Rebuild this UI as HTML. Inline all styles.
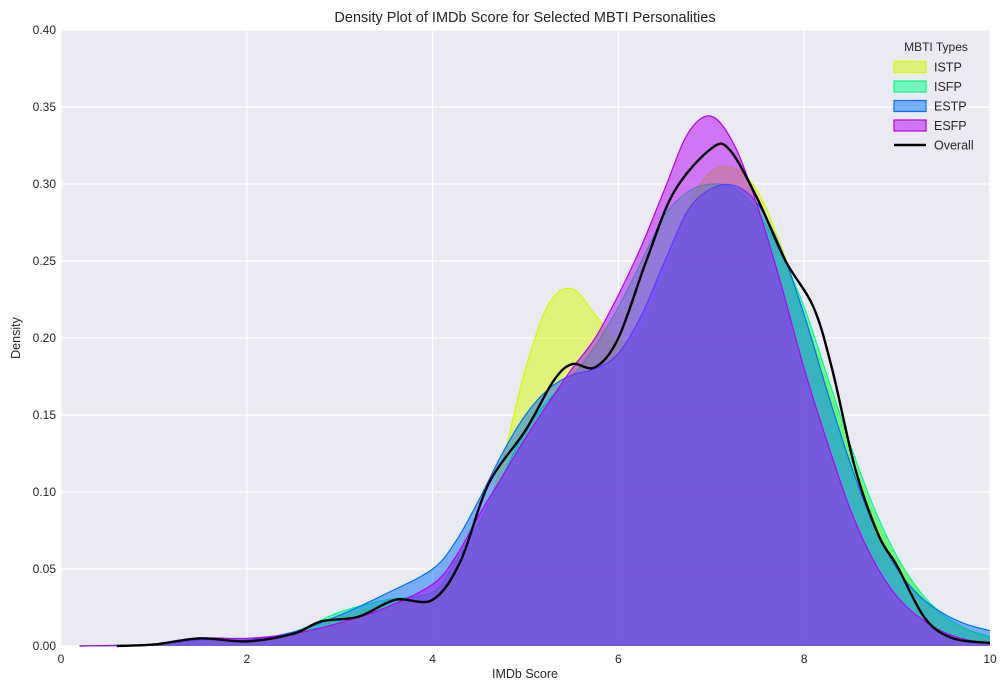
<!DOCTYPE html>
<html><head><meta charset="utf-8">
<style>
body{margin:0;background:#fff;font-family:"Liberation Sans",sans-serif;}
svg text{font-family:"Liberation Sans",sans-serif;fill:#262626;}
</style></head>
<body>
<svg id="chart" width="1007" height="690" xmlns="http://www.w3.org/2000/svg">
<rect x="61" y="30" width="929" height="616" fill="#eaeaf2"/>
<g id="grid"></g>
<g id="series"></g>
<g id="axes"></g>
<text x="525" y="22" text-anchor="middle" font-size="14.5">Density Plot of IMDb Score for Selected MBTI Personalities</text>
<text x="525" y="678" text-anchor="middle" font-size="12.5">IMDb Score</text>
<text x="0" y="0" transform="translate(20,338) rotate(-90)" text-anchor="middle" font-size="12.5">Density</text>
<g id="legend"></g>
</svg>
<script>
const xTicks=[0,2,4,6,8,10];
const yTicks=[0,0.05,0.10,0.15,0.20,0.25,0.30,0.35,0.40];
const seriesNames=["ISTP","ISFP","ESTP","ESFP"];
const seriesColors=["#d4fa00","#00ff80","#0070ff","#b400f8"];
const gridX=[0.2,1,1.5,2,2.5,3,3.5,4,4.25,4.5,4.75,5,5.25,5.5,5.75,6,6.25,6.5,6.75,7,7.25,7.5,7.75,8,8.25,8.5,8.75,9,9.25,9.5,9.75,10];
const istp=[0,0.001,0.004,0.004,0.008,0.018,0.027,0.03,0.045,0.075,0.12,0.18,0.222,0.232,0.215,0.197,0.205,0.24,0.285,0.308,0.31,0.295,0.26,0.215,0.17,0.125,0.085,0.055,0.033,0.018,0.01,0.005];
const isfp=[0,0.001,0.004,0.004,0.009,0.022,0.03,0.035,0.055,0.08,0.11,0.14,0.16,0.175,0.195,0.22,0.25,0.28,0.295,0.3,0.297,0.282,0.255,0.22,0.175,0.13,0.09,0.058,0.035,0.02,0.011,0.006];
const estp=[0,0.001,0.004,0.004,0.009,0.02,0.034,0.05,0.068,0.095,0.125,0.15,0.167,0.176,0.18,0.19,0.215,0.25,0.283,0.297,0.299,0.287,0.258,0.215,0.165,0.118,0.078,0.05,0.032,0.021,0.014,0.01];
const esfp=[0,0.001,0.005,0.005,0.008,0.015,0.025,0.04,0.058,0.085,0.11,0.135,0.158,0.18,0.2,0.228,0.26,0.297,0.333,0.344,0.325,0.285,0.235,0.18,0.132,0.088,0.055,0.032,0.018,0.009,0.004,0.002];
const overallX=[0.6,1.0,1.5,2.0,2.5,2.8,3.2,3.6,4.0,4.3,4.6,5.0,5.3,5.5,5.75,6.0,6.3,6.6,7.0,7.2,7.5,7.8,8.1,8.3,8.55,8.8,9.0,9.3,9.6,10];
const overallY=[0,0.001,0.005,0.003,0.008,0.016,0.019,0.030,0.030,0.055,0.105,0.14,0.172,0.183,0.181,0.2,0.25,0.295,0.323,0.322,0.29,0.25,0.22,0.18,0.115,0.072,0.052,0.018,0.005,0.002];

const NS="http://www.w3.org/2000/svg";
const X0=61,X1=990,Y0=646,Y1=30;
function sx(v){return X0+(v-0)/(10-0)*(X1-X0);}
function sy(v){return Y0-(v-0)/(0.4-0)*(Y0-Y1);}
function mk(tag,attrs,parent){const e=document.createElementNS(NS,tag);for(const k in attrs)e.setAttribute(k,attrs[k]);parent.appendChild(e);return e;}
function smooth(xs,ys){
  const p=xs.map((x,i)=>[sx(x),sy(ys[i])]);
  let d="M"+p[0][0]+","+p[0][1];
  for(let i=0;i<p.length-1;i++){
    const p0=p[Math.max(0,i-1)],p1=p[i],p2=p[i+1],p3=p[Math.min(p.length-1,i+2)];
    const t=1/6;
    const c1=[p1[0]+(p2[0]-p0[0])*t,p1[1]+(p2[1]-p0[1])*t];
    const c2=[p2[0]-(p3[0]-p1[0])*t,p2[1]-(p3[1]-p1[1])*t];
    d+=` C${c1[0]},${Math.min(Y0,c1[1])} ${c2[0]},${Math.min(Y0,c2[1])} ${p2[0]},${p2[1]}`;
  }
  return d;
}
const grid=document.getElementById('grid'),axes=document.getElementById('axes');
xTicks.forEach(t=>{
  const l=mk('line',{x1:sx(t),x2:sx(t),y1:Y1,y2:Y0,stroke:'#fff','stroke-width':1.2},grid);
  
  
  const tx=mk('text',{x:sx(t),y:Y0+17,'text-anchor':'middle','font-size':12},axes);
  tx.textContent=t;
  
  
});
yTicks.forEach(t=>{
  const l=mk('line',{x1:X0,x2:X1,y1:sy(t),y2:sy(t),stroke:'#fff','stroke-width':1.2},grid);
  
  
  const tx=mk('text',{x:X0-5,y:sy(t)+4,'text-anchor':'end','font-size':12},axes);
  tx.textContent=t.toFixed(2);
  
  
});
const ser=document.getElementById('series');
const allY=[istp,isfp,estp,esfp];
allY.forEach((ys,i)=>{
  const line=smooth(gridX,ys);
  const d=line+` L${sx(gridX[gridX.length-1])},${Y0} L${sx(gridX[0])},${Y0} Z`;
  const pa=mk('path',{d:d,fill:seriesColors[i],'fill-opacity':0.5,stroke:'none'},ser);
  
  
  const pl=mk('path',{d:line,fill:'none',stroke:seriesColors[i],'stroke-width':1.2},ser);
  
  
});
const ov=mk('path',{d:smooth(overallX,overallY),fill:'none',stroke:'#000','stroke-width':2.4},ser);



const lg=document.getElementById('legend');
const lt=mk('text',{x:936,y:51,'text-anchor':'middle','font-size':12},lg);
lt.textContent='MBTI Types';


seriesNames.forEach((n,i)=>{
  const y=67+i*19.5;
  const r=mk('rect',{x:894,y:y-5.5,width:32,height:11,fill:seriesColors[i],'fill-opacity':0.5,stroke:seriesColors[i],'stroke-width':1.2},lg);
  
  
  const t=mk('text',{x:934,y:y+4.5,'font-size':12.5},lg);
  t.textContent=n;
  
  
});
const ly=67+4*19.5;
const ll=mk('line',{x1:894,x2:926,y1:ly,y2:ly,stroke:'#000','stroke-width':2.4},lg);


const lo=mk('text',{x:934,y:ly+4.5,'font-size':12.5},lg);
lo.textContent='Overall';


</script>
</body></html>
